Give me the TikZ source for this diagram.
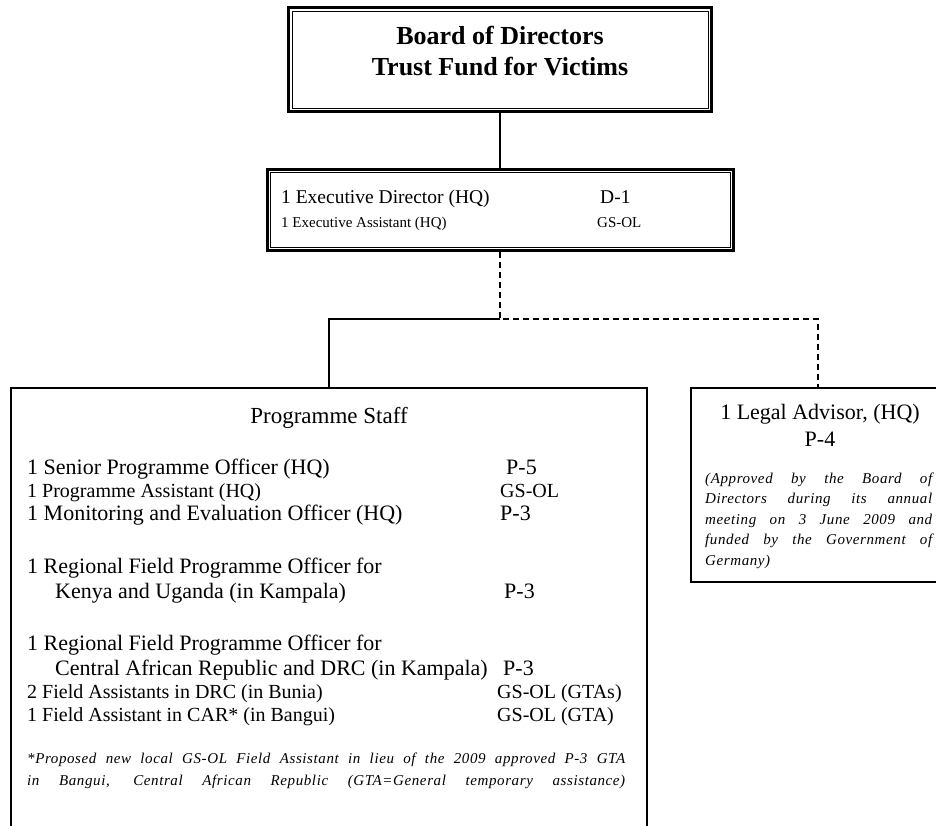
\documentclass[tikz,border=0pt]{standalone}
\usepackage{fontspec}
\setmainfont{Liberation Serif}
\begin{document}
\begin{tikzpicture}[x=1pt,y=-1pt,
  box/.style={draw, line width=1.5pt, inner sep=0pt},
  thickbox/.style={draw, line width=3pt, inner sep=0pt},
  conn/.style={line width=1.5pt},
  dconn/.style={line width=2pt, dash pattern=on 6pt off 4pt},
  txt/.style={anchor=base west, inner sep=0pt},
  ctxt/.style={anchor=base, inner sep=0pt},
  big/.style={font=\fontsize{22}{26}\selectfont},
  mid/.style={font=\fontsize{20}{24}\selectfont},
  note/.style={font=\fontsize{15}{18}\selectfont\itshape\addfontfeature{LetterSpace=4}}
]
\useasboundingbox (0,0) rectangle (936,825);
\clip (0,0) rectangle (936,825);

% boxes
\node[thickbox, minimum width=423pt, minimum height=104pt] (board) at (500,59.5) {};
\draw[line width=1pt] ([shift={(5,5)}]board.north west) rectangle ([shift={(-5,-5)}]board.south east);
\node[thickbox, minimum width=466pt, minimum height=81pt] (exec) at (500,210) {};
\draw[line width=1pt] ([shift={(4.5,4.5)}]exec.north west) rectangle ([shift={(-4.5,-4.5)}]exec.south east);
\node[box, minimum width=636pt, minimum height=462pt] (prog) at (329,619) {};
\node[box, minimum width=254pt, minimum height=194pt] (legal) at (818,485) {};

% connectors
\coordinate (j) at (500,319);
\draw[conn] (board.south) -- (exec.south |- exec.north);
\draw[dconn] (exec.south) -- (j) -| (legal.north);
\draw[conn] (j) -| (prog.north);

% board text
\node[ctxt, font=\fontsize{26}{30}\selectfont\bfseries] (b1) at (500,44) {Board of Directors};
\node[ctxt, font=\fontsize{26}{30}\selectfont\bfseries] (b2) at (500,75) {Trust Fund for Victims};

% exec text
\node[txt, font=\fontsize{19.5}{23}\selectfont] (e1) at (281,203) {1 Executive Director (HQ)};
\node[txt, font=\fontsize{19.5}{23}\selectfont] (e1g) at (600,203) {D-1};
\node[txt, font=\fontsize{15}{18}\selectfont] (e2) at (281,227) {1 Executive Assistant (HQ)};
\node[txt, font=\fontsize{15}{18}\selectfont] (e2g) at (597,227) {GS-OL};

% programme staff
\node[ctxt, font=\fontsize{23}{27}\selectfont] (ps) at (329,423) {Programme Staff};
\node[txt, big] (p1) at (27,474) {1 Senior Programme Officer (HQ)};
\node[txt, big] (p1g) at (506,474) {P-5};
\node[txt, mid] (p2) at (27,497) {1 Programme Assistant (HQ)};
\node[txt, mid] (p2g) at (500,497) {GS-OL};
\node[txt, big] (p3) at (27,520) {1 Monitoring and Evaluation Officer (HQ)};
\node[txt, big] (p3g) at (500,520) {P-3};
\node[txt, big] (p4) at (27,573) {1 Regional Field Programme Officer for};
\node[txt, big] (p4b) at (55,598) {Kenya and Uganda (in Kampala)};
\node[txt, big] (p4g) at (504,598) {P-3};
\node[txt, big] (p5) at (27,650) {1 Regional Field Programme Officer for};
\node[txt, big] (p5b) at (55,675) {Central African Republic and DRC (in Kampala)};
\node[txt, big] (p5g) at (503,675) {P-3};
\node[txt, mid] (p6) at (27,698) {2 Field Assistants in DRC (in Bunia)};
\node[txt, mid] (p6g) at (497,698) {GS-OL (GTAs)};
\node[txt, mid] (p7) at (27,721) {1 Field Assistant in CAR* (in Bangui)};
\node[txt, mid] (p7g) at (497,721) {GS-OL (GTA)};
\node[txt, note] (f1) at (27,763) {\makebox[598pt][s]{*Proposed new local GS-OL Field Assistant in lieu of the 2009 approved P-3 GTA}};
\node[txt, note] (f2) at (27,785) {\makebox[598pt][s]{in Bangui, Central African Republic (GTA=General temporary assistance)}};

% legal
\node[ctxt, big] (l1) at (820,419) {1 Legal Advisor, (HQ)};
\node[ctxt, big] (l2) at (820,446) {P-4};
\node[txt, note] (l3) at (705,483) {\makebox[227pt][s]{(Approved by the Board of}};
\node[txt, note] (l4) at (705,503) {\makebox[227pt][s]{Directors during its annual}};
\node[txt, note] (l5) at (705,524) {\makebox[227pt][s]{meeting on 3 June 2009 and}};
\node[txt, note] (l6) at (705,544) {\makebox[227pt][s]{funded by the Government of}};
\node[txt, note] (l7) at (705,565) {Germany)};
\end{tikzpicture}
\end{document}
